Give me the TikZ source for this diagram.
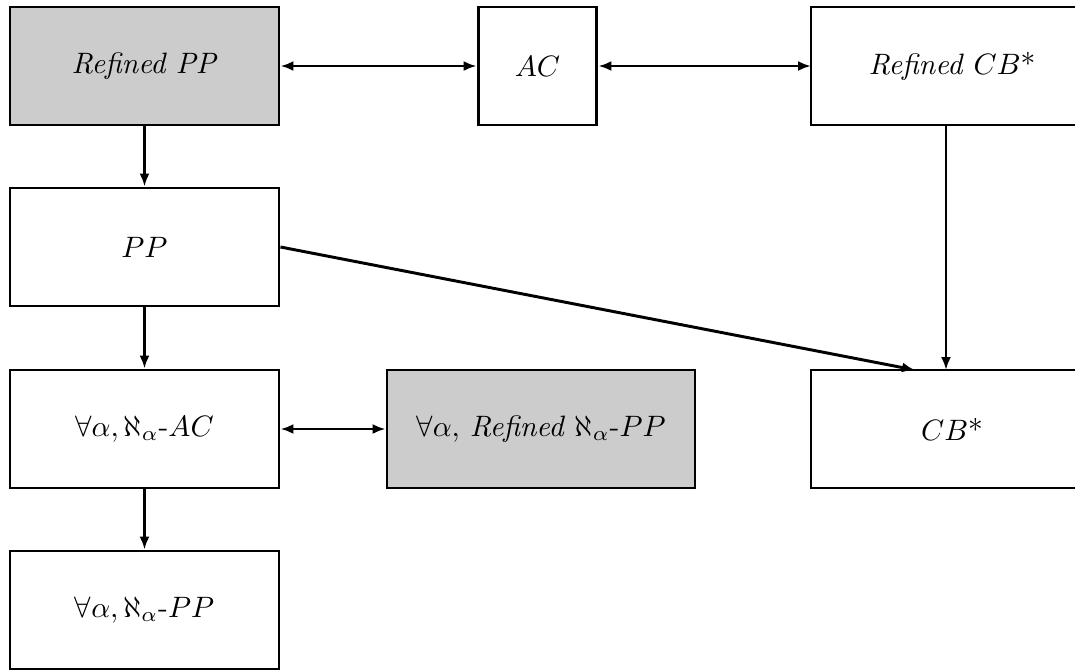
\documentclass[tikz,border=0pt]{standalone}
\usetikzlibrary{arrows.meta,calc}
\begin{document}
\begin{tikzpicture}[x=0.339pt,y=-0.339pt,
  box/.style={draw,line width=1pt,minimum height=40pt,inner sep=0pt,anchor=center},
  wide/.style={box,minimum width=91.2pt},
  grey/.style={fill=black!20},
  tip/.tip={Latex[length=4.4pt,width=3.4pt]},
  conn/.style={line width=1pt,-tip},
  bconn/.style={line width=1pt,tip-tip}]
\useasboundingbox (0,0) rectangle (1075,669);
\node[wide,grey] (rpp) at (144.5,66) {\textit{Refined PP}};
\node[box,minimum width=40.3pt] (ac) at (537.5,66) {$AC$};
\draw[line width=1pt] (811,7) rectangle (1120,125);
\node[inner sep=0pt] (rcbt) at (952,66) {\textit{Refined} $CB$*};
\coordinate (rcbw) at (811,66);
\coordinate (rcbs) at (946,125);
\node[wide] (pp) at (144.5,247) {$PP$};
\node[wide] (aac) at (144.5,429) {$\forall\alpha, \aleph_\alpha$-$AC$};
\node[box,grey,minimum width=104.4pt] (rapp) at (541,429) {$\forall\alpha,$ \textit{Refined} $\aleph_\alpha$-$PP$};
\draw[line width=1pt] (811,370) rectangle (1120,488);
\node[inner sep=0pt] (cbt) at (952,429) {$CB$*};
\coordinate (cbn) at (946,370);
\coordinate (cbd) at (915,370);
\node[wide] (app) at (144.5,610) {$\forall\alpha, \aleph_\alpha$-$PP$};
\draw[bconn] (rpp) -- (ac);
\draw[bconn] (ac) -- (rcbw);
\draw[conn] (rpp) -- (pp);
\draw[conn] (pp) -- (aac);
\draw[conn] (aac) -- (app);
\draw[bconn] (aac) -- (rapp);
\draw[conn] (rcbs) -- (cbn);
\draw[conn] (pp.east) -- (cbd);
\end{tikzpicture}
\end{document}
